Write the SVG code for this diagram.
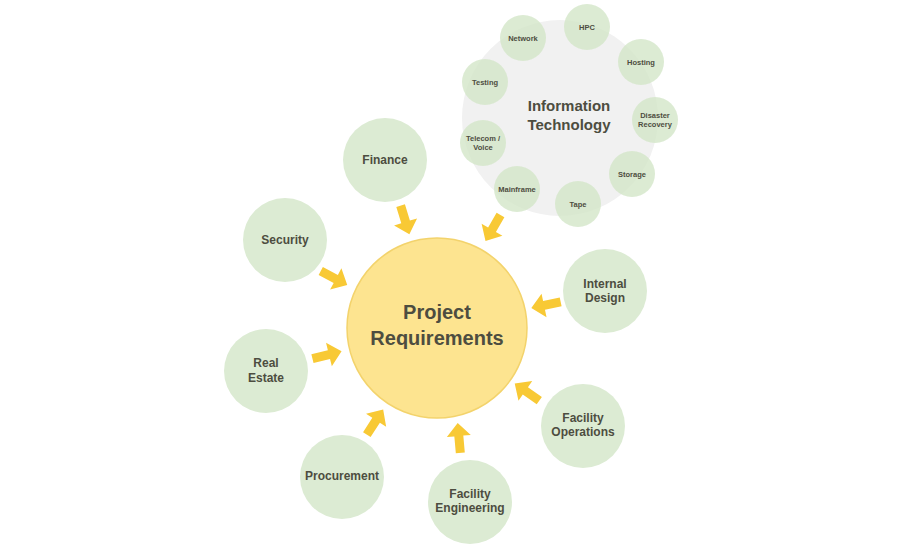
<svg xmlns="http://www.w3.org/2000/svg" width="900" height="550" viewBox="0 0 900 550">
<style>
text{font-family:"Liberation Sans",Arial,sans-serif;font-weight:bold;fill:#4d4d40;text-anchor:middle}
.n{fill:#dcebd3}
.s{fill:#d3e6c8;opacity:.8}
.t{font-size:12px}
.u{font-size:7.5px}
.a{fill:#f8c935}
</style>
<defs><path id="ar" d="M-15,-4.5 L2,-4.5 L2,-12 L15,0 L2,12 L2,4.5 L-15,4.5 Z"/></defs>
<rect width="900" height="550" fill="#fff"/>
<g id="it">
<circle cx="560" cy="118" r="98" fill="#f1f1f1"/>
<text x="569" y="111" font-size="15">Information</text>
<text x="569" y="130" font-size="15">Technology</text>
</g>
<g id="it-network"><circle class="s" cx="523" cy="38" r="23"/><text class="u" x="523" y="41">Network</text></g>
<g id="it-hpc"><circle class="s" cx="587" cy="27" r="23"/><text class="u" x="587" y="30">HPC</text></g>
<g id="it-hosting"><circle class="s" cx="641" cy="62" r="23"/><text class="u" x="641" y="65">Hosting</text></g>
<g id="it-dr"><circle class="s" cx="655" cy="120" r="23"/><text class="u" x="655" y="118">Disaster</text><text class="u" x="655" y="127">Recovery</text></g>
<g id="it-storage"><circle class="s" cx="632" cy="174" r="23"/><text class="u" x="632" y="177">Storage</text></g>
<g id="it-tape"><circle class="s" cx="578" cy="204" r="23"/><text class="u" x="578" y="207">Tape</text></g>
<g id="it-mainframe"><circle class="s" cx="517" cy="189" r="23"/><text class="u" x="517" y="192">Mainframe</text></g>
<g id="it-telecom"><circle class="s" cx="483" cy="143" r="23"/><text class="u" x="483" y="141">Telecom /</text><text class="u" x="483" y="150">Voice</text></g>
<g id="it-testing"><circle class="s" cx="485" cy="82" r="23"/><text class="u" x="485" y="85">Testing</text></g>
<g id="finance"><circle class="n" cx="385" cy="160" r="42"/><text class="t" x="385" y="164">Finance</text></g>
<g id="security"><circle class="n" cx="285" cy="240" r="42"/><text class="t" x="285" y="244">Security</text></g>
<g id="realestate"><circle class="n" cx="266" cy="371" r="42"/><text class="t" x="266" y="367">Real</text><text class="t" x="266" y="382">Estate</text></g>
<g id="procurement"><circle class="n" cx="342" cy="477" r="42"/><text class="t" x="342" y="480">Procurement</text></g>
<g id="faceng"><circle class="n" cx="470" cy="502" r="42"/><text class="t" x="470" y="498">Facility</text><text class="t" x="470" y="512">Engineering</text></g>
<g id="facops"><circle class="n" cx="583" cy="426" r="42"/><text class="t" x="583" y="422">Facility</text><text class="t" x="583" y="436">Operations</text></g>
<g id="internal"><circle class="n" cx="605" cy="291" r="42"/><text class="t" x="605" y="288">Internal</text><text class="t" x="605" y="302">Design</text></g>
<g id="main">
<circle cx="437" cy="328" r="90" fill="#fde490" stroke="#f3d36c" stroke-width="1.5"/>
<text x="437" y="319" font-size="20">Project</text>
<text x="437" y="345" font-size="20">Requirements</text>
</g>
<g id="connectors" class="a">
<use href="#ar" transform="translate(405,220) rotate(73)"/>
<use href="#ar" transform="translate(493,228) rotate(120)"/>
<use href="#ar" transform="translate(334,278) rotate(28)"/>
<use href="#ar" transform="translate(546,305) rotate(168)"/>
<use href="#ar" transform="translate(327,355) rotate(-14)"/>
<use href="#ar" transform="translate(527,392) rotate(-145)"/>
<use href="#ar" transform="translate(375,422) rotate(-57)"/>
<use href="#ar" transform="translate(459,438) rotate(-95)"/>
</g>
</svg>
